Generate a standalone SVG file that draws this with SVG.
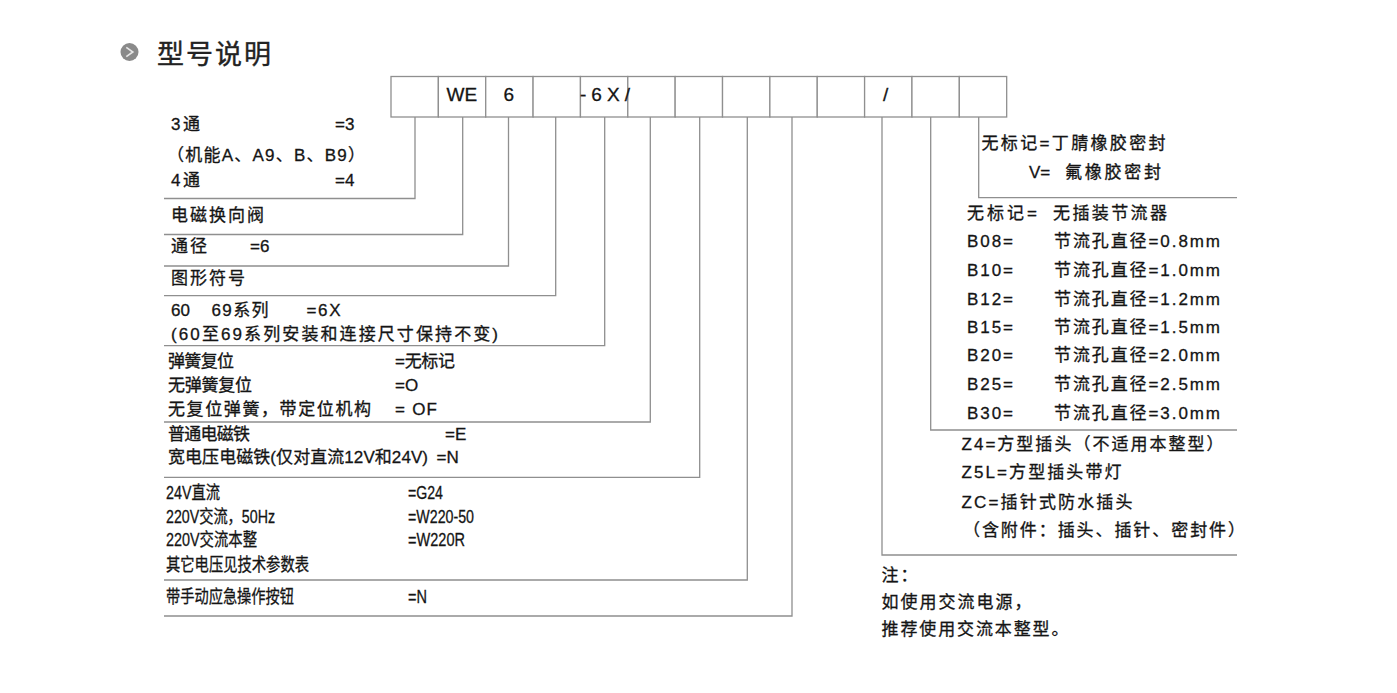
<svg xmlns="http://www.w3.org/2000/svg" width="1397" height="693" viewBox="0 0 1397 693">
<style>
  text { font-family: "Liberation Sans", "Noto Sans CJK SC", sans-serif; font-size: 17px; fill: #141414; stroke: #141414; stroke-width: 0.3px; }
  .title { font-size: 27px; fill: #222222; stroke: #222222; stroke-width: 0.4px; }
  .code { font-size: 19px; }
  .cond { font-size: 18px; }
  .cell { fill: #ffffff; stroke: #8f8f8f; stroke-width: 1.3; }
  .conn { fill: none; stroke: #8f8f8f; stroke-width: 1.3; }
</style>
<rect x="0" y="0" width="1397" height="693" fill="#ffffff"/>

<g id="title">
  <circle cx="129.5" cy="52" r="9" fill="#8a8a8a"/>
  <polyline points="126.3,47.4 132.8,52 126.3,56.6" fill="none" stroke="#e6e6e6" stroke-width="1.7"/>
  <text class="title" x="157" y="64" textLength="114">型号说明</text>
</g>

<g id="code-box">
  <rect class="cell" x="391" y="76.5" width="47.36" height="40.5"/>
  <rect class="cell" x="438.36" y="76.5" width="47.36" height="40.5"/>
  <rect class="cell" x="485.72" y="76.5" width="47.36" height="40.5"/>
  <rect class="cell" x="533.08" y="76.5" width="47.36" height="40.5"/>
  <rect class="cell" x="580.44" y="76.5" width="47.36" height="40.5"/>
  <rect class="cell" x="627.8" y="76.5" width="47.36" height="40.5"/>
  <rect class="cell" x="675.16" y="76.5" width="47.36" height="40.5"/>
  <rect class="cell" x="722.52" y="76.5" width="47.36" height="40.5"/>
  <rect class="cell" x="769.88" y="76.5" width="47.36" height="40.5"/>
  <rect class="cell" x="817.24" y="76.5" width="47.36" height="40.5"/>
  <rect class="cell" x="864.6" y="76.5" width="47.36" height="40.5"/>
  <rect class="cell" x="911.96" y="76.5" width="47.36" height="40.5"/>
  <rect class="cell" x="959.32" y="76.5" width="47.36" height="40.5"/>
  <text class="code" x="446.5" y="101">WE</text>
  <text class="code" x="503.5" y="101">6</text>
  <text class="code" x="580" y="101" textLength="50">-6X/</text>
  <text class="code" x="883" y="101">/</text>
</g>

<g id="connectors">
  <path class="conn" d="M415,117 V198.5 H164"/>
  <path class="conn" d="M462.7,117 V234.5 H164"/>
  <path class="conn" d="M508.5,117 V266 H164"/>
  <path class="conn" d="M555.7,117 V295.7 H164"/>
  <path class="conn" d="M604.7,117 V345.7 H164"/>
  <path class="conn" d="M650.3,117 V422 H164"/>
  <path class="conn" d="M699.7,117 V477.3 H164"/>
  <path class="conn" d="M747.3,117 V580 H164"/>
  <path class="conn" d="M792,117 V616 H164"/>
  <path class="conn" d="M882,117 V555 H1237"/>
  <path class="conn" d="M930.7,117 V430 H1237"/>
  <path class="conn" d="M978.7,117 V197.7 H1237"/>
</g>

<g id="desc-ways">
  <text x="171" y="130" textLength="29">3通</text>
  <text x="335" y="130">=3</text>
  <text x="167" y="161" textLength="198">（机能A、A9、B、B9）</text>
  <text x="171" y="186" textLength="29">4通</text>
  <text x="335" y="186">=4</text>
</g>

<g id="desc-type">
  <text x="171" y="221" textLength="93">电磁换向阀</text>
</g>

<g id="desc-size">
  <text x="171" y="252" textLength="36">通径</text>
  <text x="250" y="252">=6</text>
</g>

<g id="desc-symbol">
  <text x="171" y="284" textLength="74">图形符号</text>
</g>

<g id="desc-series">
  <text x="171" y="316">60</text>
  <text x="211.5" y="316" textLength="57">69系列</text>
  <text x="306.5" y="316" textLength="34">=6X</text>
  <text x="171" y="340" textLength="327">(60至69系列安装和连接尺寸保持不变)</text>
</g>

<g id="desc-reset">
  <text x="168" y="367" textLength="66">弹簧复位</text>
  <text x="395" y="367" textLength="60">=无标记</text>
  <text x="168" y="391" textLength="84">无弹簧复位</text>
  <text x="395" y="391">=O</text>
  <text x="168" y="415" textLength="203">无复位弹簧，带定位机构</text>
  <text x="395" y="415" textLength="42">= OF</text>
</g>

<g id="desc-magnet">
  <text x="168" y="440" textLength="82">普通电磁铁</text>
  <text x="445" y="440">=E</text>
  <text x="168" y="463" textLength="260">宽电压电磁铁(仅对直流12V和24V)</text>
  <text x="436.5" y="463">=N</text>
</g>

<g id="desc-voltage">
  <text class="cond" x="166" y="499" textLength="54" lengthAdjust="spacingAndGlyphs">24V直流</text>
  <text class="cond" x="408" y="499" textLength="35" lengthAdjust="spacingAndGlyphs">=G24</text>
  <text class="cond" x="166" y="523" textLength="109" lengthAdjust="spacingAndGlyphs">220V交流，50Hz</text>
  <text class="cond" x="408" y="523" textLength="66" lengthAdjust="spacingAndGlyphs">=W220-50</text>
  <text class="cond" x="166" y="546" textLength="91" lengthAdjust="spacingAndGlyphs">220V交流本整</text>
  <text class="cond" x="408" y="546" textLength="57" lengthAdjust="spacingAndGlyphs">=W220R</text>
  <text class="cond" x="166" y="571" textLength="143" lengthAdjust="spacingAndGlyphs">其它电压见技术参数表</text>
</g>

<g id="desc-manual">
  <text class="cond" x="166" y="603" textLength="128" lengthAdjust="spacingAndGlyphs">带手动应急操作按钮</text>
  <text class="cond" x="408" y="603" textLength="19" lengthAdjust="spacingAndGlyphs">=N</text>
</g>

<g id="desc-seal">
  <text x="981.5" y="149" textLength="184">无标记=丁腈橡胶密封</text>
  <text x="1029" y="178">V=</text>
  <text x="1065" y="178" textLength="96">氟橡胶密封</text>
</g>

<g id="desc-throttle">
  <text x="967" y="218.5" textLength="70">无标记=</text>
  <text x="1053" y="218.5" textLength="114">无插装节流器</text>
  <text x="967" y="247" textLength="46">B08=</text>
  <text x="1054" y="247" textLength="166">节流孔直径=0.8mm</text>
  <text x="967" y="276" textLength="46">B10=</text>
  <text x="1054" y="276" textLength="166">节流孔直径=1.0mm</text>
  <text x="967" y="304.5" textLength="46">B12=</text>
  <text x="1054" y="304.5" textLength="166">节流孔直径=1.2mm</text>
  <text x="967" y="333" textLength="46">B15=</text>
  <text x="1054" y="333" textLength="166">节流孔直径=1.5mm</text>
  <text x="967" y="361" textLength="46">B20=</text>
  <text x="1054" y="361" textLength="166">节流孔直径=2.0mm</text>
  <text x="967" y="389.5" textLength="46">B25=</text>
  <text x="1054" y="389.5" textLength="166">节流孔直径=2.5mm</text>
  <text x="967" y="418.5" textLength="46">B30=</text>
  <text x="1054" y="418.5" textLength="166">节流孔直径=3.0mm</text>
</g>

<g id="desc-plug">
  <text x="961.5" y="450" textLength="262">Z4=方型插头（不适用本整型）</text>
  <text x="961.5" y="478" textLength="160">Z5L=方型插头带灯</text>
  <text x="961.5" y="508" textLength="171">ZC=插针式防水插头</text>
  <text x="963" y="536" textLength="282">（含附件：插头、插针、密封件）</text>
</g>

<g id="note">
  <text x="881.5" y="581" textLength="36">注：</text>
  <text x="881.5" y="608" textLength="150">如使用交流电源，</text>
  <text x="881.5" y="635" textLength="187">推荐使用交流本整型。</text>
</g>
</svg>
